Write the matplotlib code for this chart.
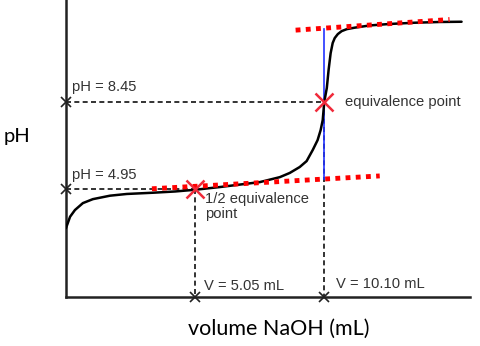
import matplotlib
matplotlib.use("Agg")
import matplotlib.pyplot as plt

# titration curve (volume NaOH in mL, pH)
VOLUME = [0.0, 0.16, 0.35, 0.66, 1.05, 1.72, 2.38, 3.40, 4.26, 5.05, 6.02,
          7.58, 8.36, 8.75, 9.14, 9.41, 9.65, 9.84, 9.96, 10.04, 10.10,
          10.20, 10.27, 10.35, 10.43, 10.51, 10.63, 10.78, 10.98, 11.29,
          11.88, 12.66, 13.63, 14.61, 15.47]
PH = [3.35, 3.81, 4.08, 4.36, 4.52, 4.66, 4.73, 4.78, 4.83, 4.90, 5.01,
      5.21, 5.41, 5.58, 5.82, 6.06, 6.51, 6.91, 7.32, 7.72, 8.45,
      9.02, 9.75, 10.43, 10.84, 11.04, 11.20, 11.32, 11.40, 11.46,
      11.55, 11.61, 11.66, 11.69, 11.70]

# tangent lines (red dotted)
LOW_TAN_V = [3.36, 12.27]
LOW_TAN_PH = [4.94, 5.46]
HIGH_TAN_V = [8.98, 15.0]
HIGH_TAN_PH = [11.36, 11.79]

# key points
HALF_V, HALF_PH = 5.05, 4.95
EQ_V, EQ_PH = 10.10, 8.45
BLUE_PH = [5.35, 11.42]

X_MAX = 15.8
Y_MIN, Y_MAX = 0.58, 12.58

W, H = 480, 346
fig = plt.figure(figsize=(W / 100, H / 100), dpi=100)
ax = fig.add_axes([66 / W, 49.5 / H, 404 / W, 296.5 / H])
ax.set_xlim(0, X_MAX)
ax.set_ylim(Y_MIN, Y_MAX)
for s in ["top", "right"]:
    ax.spines[s].set_visible(False)
for s in ["left", "bottom"]:
    ax.spines[s].set_linewidth(1.8)
    ax.spines[s].set_color("#222222")
ax.set_xticks([])
ax.set_yticks([])

dash = dict(color="#111111", lw=1.2, linestyle=(0, (3, 2)), zorder=2)
# horizontal guide lines
ax.plot([0, EQ_V], [EQ_PH, EQ_PH], **dash)
ax.plot([0, HALF_V], [HALF_PH, HALF_PH], **dash)
# vertical guide lines
ax.plot([EQ_V, EQ_V], [EQ_PH, Y_MIN], **dash)
ax.plot([HALF_V, HALF_V], [HALF_PH, Y_MIN], **dash)

# blue vertical at equivalence
ax.plot([EQ_V, EQ_V], BLUE_PH, color="#2233ff", lw=1.2, zorder=3)

# curve
ax.plot(VOLUME, PH, color="black", lw=1.8, zorder=4,
        solid_capstyle="round", solid_joinstyle="round")

# tangents
red_dots = dict(color="#ff0000", lw=3.5, linestyle=(0, (1, 1.1)), zorder=5)
ax.plot(LOW_TAN_V, LOW_TAN_PH, **red_dots)
ax.plot(HIGH_TAN_V, HIGH_TAN_PH, **red_dots)

# markers
ax.plot([HALF_V, EQ_V], [HALF_PH, EQ_PH], linestyle="none", marker="x",
        markersize=13, mew=1.8, color="#f02a3a", zorder=6)
ax.plot([0, 0, HALF_V, EQ_V], [EQ_PH, HALF_PH, Y_MIN, Y_MIN],
        linestyle="none", marker="x", markersize=7.5, mew=1.2,
        color="#222222", zorder=6, clip_on=False)

txt = dict(fontsize=10.6, color="#333333", family="Liberation Sans",
           textcoords="offset pixels")
ax.annotate("pH = 8.45", (0, EQ_PH), xytext=(6, 11), va="baseline", **txt)
ax.annotate("pH = 4.95", (0, HALF_PH), xytext=(6, 9.5), va="baseline", **txt)
ax.annotate("equivalence point", (EQ_V, EQ_PH), xytext=(21, 0), va="center", **txt)
ax.annotate("1/2 equivalence\npoint", (HALF_V, HALF_PH), xytext=(10, -3),
            va="top", linespacing=1.15, **txt)
ax.annotate("V = 5.05 mL", (HALF_V, Y_MIN), xytext=(9, 7), va="baseline", **txt)
ax.annotate("V = 10.10 mL", (EQ_V, Y_MIN), xytext=(12, 9), va="baseline", **txt)

fig.text(17 / W, 1 - 137 / H, "pH", fontsize=14.5, family="Lato",
         ha="center", va="center", color="black")
fig.text(278.5 / W, 1 - 335 / H, "volume NaOH (mL)", fontsize=15.5,
         family="Lato", ha="center", va="baseline", color="black")

fig.savefig("out.png", dpi=100)
